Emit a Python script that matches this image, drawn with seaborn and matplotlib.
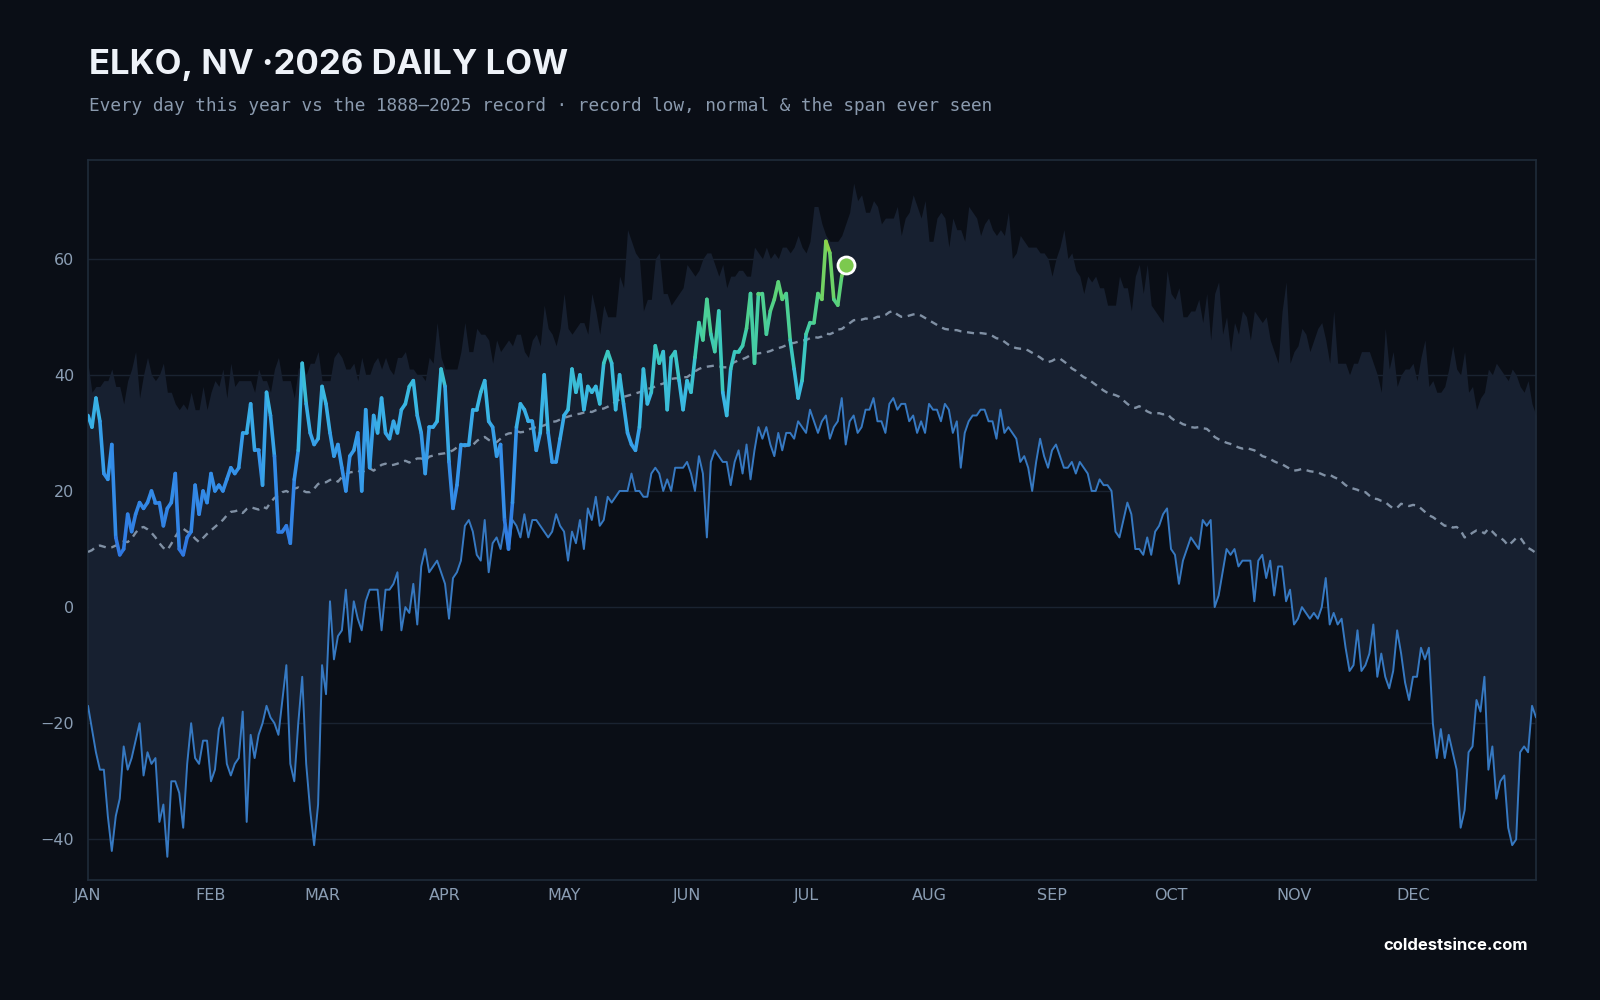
import numpy as np
import pandas as pd
import matplotlib
matplotlib.use("Agg")
import matplotlib.pyplot as plt
import seaborn as sns
from matplotlib.collections import LineCollection
from matplotlib.colors import LinearSegmentedColormap, Normalize

# ---------------- data ----------------
record_low = [
    -17, -21, -25, -28, -28, -36, -42, -36, -33, -24, -28, -26, -23, -20, -29, -25, -27, -26, -37, -34,
    -43, -30, -30, -32, -38, -27, -20, -26, -27, -23, -23, -30, -28, -21, -19, -27, -29, -27, -26, -18,
    -37, -22, -26, -22, -20, -17, -19, -20, -22, -16, -10, -27, -30, -20, -12, -27, -35, -41, -34, -10,
    -15, 1, -9, -5, -4, 3, -6, 1, -2, -4, 1, 3, 3, 3, -4, 3, 3, 4, 6, -4,
    0, -1, 4, -3, 7, 10, 6, 7, 8, 6, 4, -2, 5, 6, 8, 14, 15, 13, 9, 8,
    15, 6, 11, 12, 10, 14, 10, 15, 14, 12, 16, 12, 15, 15, 14, 13, 12, 13, 16, 14,
    13, 8, 13, 11, 15, 10, 17, 15, 19, 14, 15, 19, 18, 19, 20, 20, 20, 23, 20, 20,
    19, 19, 23, 24, 23, 20, 22, 20, 24, 24, 24, 25, 23, 20, 26, 23, 12, 25, 27, 26,
    25, 25, 21, 25, 27, 23, 28, 22, 27, 31, 29, 31, 28, 26, 30, 27, 30, 30, 29, 32,
    31, 30, 34, 32, 30, 32, 33, 29, 31, 32, 36, 28, 32, 33, 30, 31, 34, 34, 36, 32,
    32, 30, 35, 36, 34, 35, 35, 32, 33, 30, 32, 30, 35, 34, 34, 32, 35, 34, 30, 32,
    24, 30, 32, 33, 33, 34, 34, 32, 32, 29, 34, 30, 31, 30, 29, 25, 26, 24, 20, 25,
    29, 26, 24, 27, 28, 26, 24, 24, 25, 23, 25, 24, 23, 20, 20, 22, 21, 21, 20, 13,
    12, 15, 18, 16, 10, 10, 9, 12, 9, 13, 14, 16, 17, 10, 9, 4, 8, 10, 12, 11,
    10, 15, 14, 15, 0, 2, 6, 10, 9, 10, 7, 8, 8, 8, 1, 8, 9, 5, 8, 2,
    7, 7, 1, 3, -3, -2, 0, -1, -2, -1, -2, 0, 5, -3, -1, -3, -2, -7, -11, -10,
    -4, -11, -10, -8, -3, -12, -8, -12, -14, -11, -4, -8, -13, -16, -12, -12, -7, -9, -7, -20,
    -26, -21, -26, -22, -25, -28, -38, -35, -25, -24, -16, -18, -12, -28, -24, -33, -30, -29, -38, -41,
    -40, -25, -24, -25, -17, -19,
]

record_high_low = [
    42, 37, 38, 38, 39, 39, 41, 38, 38, 35, 39, 41, 44, 36, 40, 43, 40, 39, 40, 42,
    37, 37, 35, 34, 35, 34, 37, 34, 34, 38, 34, 37, 39, 38, 41, 36, 42, 38, 39, 39,
    39, 39, 37, 41, 39, 39, 37, 41, 43, 39, 39, 39, 36, 41, 42, 40, 42, 42, 44, 39,
    39, 39, 43, 44, 43, 41, 41, 42, 39, 43, 40, 40, 42, 43, 41, 43, 41, 40, 43, 43,
    44, 41, 41, 40, 40, 39, 43, 42, 49, 43, 41, 41, 41, 41, 44, 49, 44, 44, 48, 47,
    47, 46, 42, 46, 44, 45, 46, 45, 47, 47, 44, 43, 46, 47, 45, 52, 48, 47, 45, 48,
    54, 48, 47, 48, 49, 49, 47, 54, 51, 47, 52, 50, 50, 50, 57, 55, 65, 63, 61, 60,
    51, 53, 53, 60, 61, 54, 54, 52, 53, 54, 55, 59, 58, 57, 58, 60, 61, 61, 59, 57,
    59, 55, 57, 57, 58, 58, 57, 57, 62, 61, 60, 62, 60, 61, 60, 62, 62, 61, 62, 64,
    62, 61, 63, 69, 69, 66, 64, 63, 63, 63, 64, 66, 68, 73, 70, 71, 68, 68, 70, 69,
    66, 67, 67, 67, 69, 64, 67, 68, 71, 69, 67, 70, 63, 63, 67, 68, 67, 62, 67, 65,
    65, 63, 69, 68, 67, 64, 66, 67, 65, 64, 65, 64, 68, 60, 61, 64, 63, 62, 62, 62,
    61, 61, 60, 57, 60, 62, 65, 60, 61, 58, 57, 54, 57, 56, 57, 55, 55, 52, 52, 52,
    57, 55, 55, 51, 57, 59, 54, 59, 52, 51, 50, 49, 58, 54, 53, 55, 50, 50, 51, 51,
    53, 49, 54, 46, 54, 56, 47, 50, 44, 49, 47, 51, 50, 46, 51, 50, 49, 50, 46, 44,
    42, 51, 56, 42, 44, 45, 48, 47, 44, 46, 48, 49, 46, 42, 51, 42, 42, 42, 40, 42,
    42, 44, 44, 44, 42, 40, 37, 48, 41, 44, 38, 40, 41, 41, 42, 39, 43, 46, 38, 39,
    37, 37, 38, 41, 45, 41, 40, 44, 37, 38, 34, 36, 37, 41, 40, 42, 41, 40, 39, 41,
    40, 38, 37, 39, 35, 33,
]

normal_low = [
    9.5, 9.8, 10.4, 10.6, 10.4, 10.2, 10.3, 10.6, 11.0, 11.3, 11.2, 11.8, 12.8, 13.6, 13.8, 13.4, 12.8, 12.0, 11.0, 10.2,
    9.8, 10.9, 12.1, 13.2, 13.5, 13.0, 12.6, 11.8, 11.2, 11.9, 12.6, 13.2, 13.8, 14.4, 15.0, 15.8, 16.4, 16.5, 16.7, 16.2,
    16.9, 17.2, 17.0, 16.8, 17.3, 17.0, 18.0, 18.8, 19.2, 19.8, 20.0, 19.6, 20.4, 20.6, 20.1, 19.8, 19.8, 20.4, 21.2, 21.5,
    21.5, 21.9, 22.0, 21.6, 22.4, 22.8, 23.2, 23.3, 23.5, 23.2, 23.6, 23.9, 23.5, 24.0, 24.5, 24.7, 24.4, 24.5, 24.7, 25.0,
    25.2, 24.9, 25.3, 25.6, 25.6, 25.2, 25.9, 26.1, 26.3, 26.4, 26.5, 26.7, 27.0, 27.5, 27.9, 27.7, 27.9, 27.9, 28.6, 29.1,
    29.3, 28.8, 28.4, 28.4, 29.0, 29.6, 29.9, 30.0, 30.3, 30.1, 30.2, 30.6, 30.8, 31.0, 31.1, 31.3, 31.6, 31.9, 32.0, 32.3,
    32.6, 32.8, 33.0, 33.2, 33.3, 33.5, 33.7, 33.6, 33.9, 34.1, 34.2, 34.5, 34.9, 35.4, 35.8, 36.2, 36.4, 36.6, 36.8, 37.0,
    37.3, 37.6, 37.7, 38.0, 38.3, 38.5, 38.9, 39.3, 39.4, 39.4, 39.6, 39.6, 40.1, 40.6, 41.0, 41.3, 41.4, 41.5, 41.6, 41.5,
    41.3, 41.3, 41.8, 42.2, 42.5, 42.7, 43.0, 43.4, 43.6, 43.7, 43.8, 43.9, 44.1, 44.4, 44.6, 44.8, 45.1, 45.4, 45.5, 45.7,
    45.9, 46.0, 46.3, 46.5, 46.4, 46.6, 47.1, 47.0, 47.3, 47.8, 47.9, 48.4, 48.9, 49.4, 49.5, 49.5, 49.7, 49.6, 49.7, 50.0,
    50.0, 50.3, 50.8, 51.0, 50.4, 50.0, 50.0, 50.2, 50.4, 50.5, 50.2, 49.8, 49.4, 49.0, 48.6, 48.2, 47.9, 47.8, 47.7, 47.7,
    47.5, 47.4, 47.3, 47.2, 47.1, 47.2, 47.1, 47.0, 46.7, 46.3, 46.2, 45.7, 45.2, 44.8, 44.6, 44.5, 44.5, 44.2, 43.8, 43.4,
    43.0, 42.5, 42.2, 42.4, 42.8, 42.8, 42.3, 41.8, 41.1, 40.7, 40.1, 39.6, 39.3, 38.8, 38.3, 37.8, 37.3, 36.9, 36.7, 36.5,
    36.2, 35.6, 35.0, 34.5, 34.3, 34.6, 34.2, 33.7, 33.4, 33.3, 33.4, 33.2, 33.3, 32.6, 32.1, 31.9, 31.5, 31.3, 31.0, 30.9,
    31.0, 30.8, 30.7, 30.1, 29.3, 28.9, 28.6, 28.3, 28.1, 27.8, 27.5, 27.3, 27.4, 27.2, 27.0, 26.6, 26.0, 25.8, 25.5, 25.1,
    24.8, 24.6, 24.2, 23.8, 23.5, 23.6, 23.8, 23.6, 23.4, 23.3, 23.2, 22.9, 22.6, 22.8, 22.4, 22.1, 21.6, 21.0, 20.6, 20.4,
    20.2, 19.8, 19.8, 19.2, 18.7, 18.6, 18.3, 18.1, 17.5, 17.0, 17.1, 17.8, 17.6, 17.4, 17.6, 17.5, 17.0, 16.4, 15.8, 15.5,
    15.0, 14.5, 14.0, 14.1, 13.7, 13.8, 13.2, 12.0, 12.3, 12.8, 13.2, 13.1, 12.7, 13.5, 13.0, 12.3, 12.0, 11.4, 10.6, 11.2,
    11.9, 12.0, 11.0, 10.2, 9.8, 9.3,
]

low_2026 = [
    33, 31, 36, 32, 23, 22, 28, 12, 9, 10, 16, 13, 16, 18, 17, 18, 20, 18, 18, 14,
    17, 18, 23, 10, 9, 12, 13, 21, 16, 20, 18, 23, 20, 21, 20, 22, 24, 23, 24, 30,
    30, 35, 27, 27, 21, 37, 33, 26, 13, 13, 14, 11, 22, 27, 42, 35, 30, 28, 29, 38,
    35, 30, 26, 28, 24, 20, 26, 27, 30, 20, 34, 24, 33, 30, 36, 30, 29, 32, 30, 34,
    35, 38, 39, 33, 30, 23, 31, 31, 32, 41, 38, 25, 17, 21, 28, 28, 28, 34, 34, 37,
    39, 32, 31, 26, 28, 15, 10, 18, 31, 35, 34, 32, 32, 27, 30, 40, 30, 25, 25, 29,
    33, 34, 41, 37, 40, 34, 38, 37, 38, 35, 42, 44, 42, 34, 40, 35, 30, 28, 27, 31,
    41, 35, 37, 45, 42, 44, 34, 43, 44, 39, 34, 39, 37, 43, 49, 46, 53, 47, 44, 51,
    37, 33, 41, 44, 44, 45, 48, 54, 42, 54, 54, 47, 51, 53, 56, 53, 54, 46, 41, 36,
    39, 47, 49, 49, 54, 53, 63, 61, 53, 52, 57, 59,
]

month_labels = ["JAN", "FEB", "MAR", "APR", "MAY", "JUN", "JUL", "AUG", "SEP", "OCT", "NOV", "DEC"]
month_starts = [0, 31, 59, 90, 120, 151, 181, 212, 243, 273, 304, 334]
y_ticks = [-40, -20, 0, 20, 40, 60]

title = "ELKO, NV \u00b72026 DAILY LOW"
subtitle = "Every day this year vs the 1888\u20132025 record \u00b7 record low, normal & the span ever seen"
footer = "coldestsince.com"

# ---------------- styling ----------------
BG = "#0a0e16"
BAND = "#172030"
GRID = "#1a2331"
SPINE = "#1f2b3a"
TICK = "#8a9db3"
REC_LOW = "#3679c2"
NORMAL = "#8090a4"

sns.set_theme(style="dark")
plt.rcParams["font.family"] = ["DejaVu Sans"]

fig = plt.figure(figsize=(16, 10), dpi=100, facecolor=BG)
ax = fig.add_axes([0.055, 0.12, 0.905, 0.72])
ax.set_facecolor(BG)

days = np.arange(len(record_low))
clim = pd.DataFrame({"day": days, "record_low": record_low,
                     "record_high": record_high_low, "normal": normal_low})

# band (span ever seen)
ax.fill_between(clim["day"], clim["record_low"], clim["record_high"],
                color=BAND, linewidth=0, zorder=1)

# record low line
sns.lineplot(data=clim, x="day", y="record_low", ax=ax, color=REC_LOW,
             linewidth=1.4, zorder=3, legend=False)
# normal dashed
sns.lineplot(data=clim, x="day", y="normal", ax=ax, color=NORMAL,
             linewidth=1.7, zorder=3, legend=False)
ax.lines[-1].set_dashes([3, 2.4])

# 2026 gradient line
yr = pd.DataFrame({"day": np.arange(len(low_2026)), "low": low_2026})
cmap = LinearSegmentedColormap.from_list(
    "lowgrad",
    [(0.0, "#2f74e0"), (0.3, "#3595ea"), (0.5, "#3ab8e4"), (0.66, "#3ccbb8"),
     (0.82, "#58d27c"), (1.0, "#9ad23c")])
norm = Normalize(vmin=8, vmax=64)
pts = np.column_stack([yr["day"].values, yr["low"].values]).reshape(-1, 1, 2)
segs = np.concatenate([pts[:-1], pts[1:]], axis=1)
seg_vals = (yr["low"].values[:-1] + yr["low"].values[1:]) / 2.0
lc = LineCollection(segs, cmap=cmap, norm=norm, linewidth=2.6,
                    capstyle="round", joinstyle="round", zorder=5)
lc.set_array(seg_vals)
ax.add_collection(lc)

# today marker
last = yr.iloc[[-1]]
sns.scatterplot(data=last, x="day", y="low", ax=ax, s=150, color="#7cc94e",
                edgecolor="white", linewidth=2.0, zorder=6, legend=False)

# axes
ax.set_xlim(0, 365)
ax.set_ylim(-47, 77)
ax.set_xticks(month_starts)
ax.set_xticklabels(month_labels)
ax.set_yticks(y_ticks)
ax.set_yticklabels([f"{v}".replace("-", "\u2212") for v in y_ticks])
ax.set_xlabel("")
ax.set_ylabel("")
ax.grid(True, axis="y", color=GRID, linewidth=1.0, zorder=0)
ax.grid(False, axis="x")
ax.set_axisbelow(True)
for s in ax.spines.values():
    s.set_visible(True)
    s.set_color(SPINE)
    s.set_linewidth(1.2)
ax.tick_params(axis="both", labelsize=11.5, length=4, width=1, direction="out")
ax.tick_params(axis="x", colors=SPINE, labelcolor=TICK, pad=2)
ax.tick_params(axis="y", colors=SPINE, labelcolor=TICK, pad=6)

# texts
fig.text(0.0555, 0.926, title, color="#eef2f8", fontsize=25, fontweight="bold",
         family=["Inter", "DejaVu Sans"], va="baseline", ha="left")
fig.text(0.0555, 0.889, subtitle, color="#8a9aae", fontsize=12.75,
         family=["DejaVu Sans Mono"], va="baseline", ha="left")
fig.text(0.955, 0.05, footer, color="#ffffff", fontsize=12, fontweight="bold",
         family=["Inter", "DejaVu Sans"], va="baseline", ha="right")

fig.savefig("out.png", dpi=100, facecolor=BG)
